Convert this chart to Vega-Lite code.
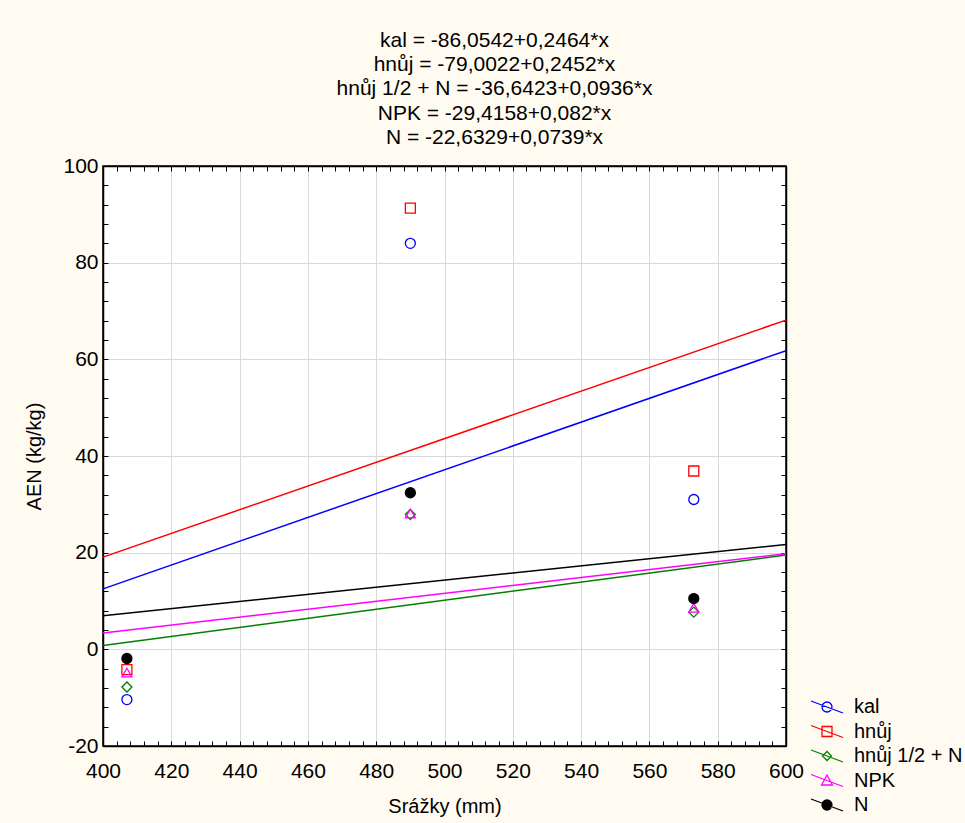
{
  "$schema": "https://vega.github.io/schema/vega-lite/v6.json",
  "autosize": {"type": "none"},
  "width": 683,
  "height": 580,
  "padding": {"left": 103, "top": 166, "right": 179, "bottom": 77},
  "background": "#fffbf0",
  "config": {
    "font": "Liberation Sans",
    "view": {"fill": "white", "stroke": "black", "strokeWidth": 1.5}
  },
  "title": {
    "text": ["kal = -86,0542+0,2464*x", "hnůj = -79,0022+0,2452*x", "hnůj 1/2 + N = -36,6423+0,0936*x", "NPK = -29,4158+0,082*x", "N = -22,6329+0,0739*x"],
    "fontSize": 21,
    "fontWeight": "normal",
    "color": "black",
    "lineHeight": 24.3,
    "anchor": "middle",
    "dx": 50,
    "offset": 7
  },
  "datasets": {
    "lines": [
      {"series": "kal", "x": 400, "y": 12.51}, {"series": "kal", "x": 600, "y": 61.79},
      {"series": "hnůj", "x": 400, "y": 19.08}, {"series": "hnůj", "x": 600, "y": 68.12},
      {"series": "hnůj 1/2 + N", "x": 400, "y": 0.80}, {"series": "hnůj 1/2 + N", "x": 600, "y": 19.52},
      {"series": "NPK", "x": 400, "y": 3.38}, {"series": "NPK", "x": 600, "y": 19.78},
      {"series": "N", "x": 400, "y": 6.93}, {"series": "N", "x": 600, "y": 21.71}
    ],
    "points": [
      {"group": "kal", "x": 407, "y": -10.4}, {"group": "kal", "x": 490, "y": 84.0}, {"group": "kal", "x": 573, "y": 31.0},
      {"group": "hnůj", "x": 407, "y": -4.2}, {"group": "hnůj", "x": 490, "y": 91.3}, {"group": "hnůj", "x": 573, "y": 36.9},
      {"group": "hnůj 1/2 + N", "x": 407, "y": -7.8}, {"group": "hnůj 1/2 + N", "x": 490, "y": 27.9}, {"group": "hnůj 1/2 + N", "x": 573, "y": 7.7},
      {"group": "NPK", "x": 407, "y": -4.8}, {"group": "NPK", "x": 490, "y": 28.1}, {"group": "NPK", "x": 573, "y": 8.6},
      {"group": "N", "x": 407, "y": -1.9}, {"group": "N", "x": 490, "y": 32.4}, {"group": "N", "x": 573, "y": 10.5}
    ]
  },
  "resolve": {"axis": {"x": "independent", "y": "independent"}},
  "layer": [
    {
      "data": {"name": "lines"},
      "mark": {"type": "line", "strokeWidth": 1.5},
      "encoding": {
        "x": {
          "field": "x", "type": "quantitative",
          "scale": {"domain": [400, 600], "nice": false, "zero": false},
          "axis": {
            "orient": "bottom",
            "title": "Srážky (mm)",
            "values": [400,404,408,412,416,420,424,428,432,436,440,444,448,452,456,460,464,468,472,476,480,484,488,492,496,500,504,508,512,516,520,524,528,532,536,540,544,548,552,556,560,564,568,572,576,580,584,588,592,596,600],
            "labelExpr": "datum.value % 20 === 0 ? '' + datum.value : ''",
            "labelOverlap": false,
            "labelFlush": false,
            "labelFontSize": 21,
            "labelColor": "black",
            "labelPadding": 19,
            "tickSize": -5,
            "tickColor": "black",
            "domainColor": "black",
            "domainWidth": 1.5,
            "grid": true,
            "gridColor": {"condition": {"test": "datum.value % 20 === 0", "value": "#d9d9d9"}, "value": "rgba(0,0,0,0)"},
            "titleFontSize": 20,
            "titleFontWeight": "normal",
            "titleColor": "black",
            "titlePadding": 15
          }
        },
        "y": {
          "field": "y", "type": "quantitative",
          "scale": {"domain": [-20, 100], "nice": false, "zero": false},
          "axis": {
            "orient": "left",
            "title": "AEN (kg/kg)",
            "values": [-20,-16,-12,-8,-4,0,4,8,12,16,20,24,28,32,36,40,44,48,52,56,60,64,68,72,76,80,84,88,92,96,100],
            "labelExpr": "datum.value % 20 === 0 ? '' + datum.value : ''",
            "labelOverlap": false,
            "labelFlush": false,
            "labelFontSize": 21,
            "labelColor": "black",
            "labelPadding": 10,
            "tickSize": -5,
            "tickColor": "black",
            "domainColor": "black",
            "domainWidth": 1.5,
            "grid": true,
            "gridColor": {"condition": {"test": "datum.value % 20 === 0", "value": "#d9d9d9"}, "value": "rgba(0,0,0,0)"},
            "titleFontSize": 20,
            "titleFontWeight": "normal",
            "titleColor": "black",
            "titlePadding": 18
          }
        },
        "color": {
          "field": "series", "type": "nominal",
          "scale": {"domain": ["kal", "hnůj", "hnůj 1/2 + N", "NPK", "N"], "range": ["#0000ff", "#ff0000", "#008000", "#ff00ff", "#000000"]},
          "legend": {
            "title": null,
            "orient": "none",
            "legendX": 713,
            "legendY": 530,
            "padding": 0,
            "labelFontSize": 20,
            "labelColor": "black",
            "labelOffset": 16,
            "rowPadding": 3.5,
            "symbolSize": 400,
            "symbolStrokeWidth": 1.3,
            "encode": {
              "symbols": {
                "update": {
                  "shape": {"signal": "datum.value === 'kal' ? 'M-1.6,-0.6L1.6,0.6M0.5,0A0.5,0.5 0 1,1 -0.5,0A0.5,0.5 0 1,1 0.5,0Z' : datum.value === 'hnůj' ? 'M-1.6,-0.6L1.6,0.6M-0.5,-0.5H0.5V0.5H-0.5Z' : datum.value === 'hnůj 1/2 + N' ? 'M-1.6,-0.6L1.6,0.6M0,-0.45L0.45,0L0,0.45L-0.45,0Z' : datum.value === 'NPK' ? 'M-1.6,-0.6L1.6,0.6M0,-0.55L0.55,0.45L-0.55,0.45Z' : 'M-1.6,-0.6L1.6,0.6M0.5,0A0.5,0.5 0 1,1 -0.5,0A0.5,0.5 0 1,1 0.5,0Z'"},
                  "fill": {"signal": "datum.value === 'N' ? 'black' : 'transparent'"},
                  "strokeWidth": {"value": 1.3},
                  "opacity": {"value": 1}
                }
              }
            }
          }
        },
        "detail": {"field": "series"}
      }
    },
    {
      "data": {"name": "points"},
      "mark": {"type": "point", "size": 100, "strokeWidth": 1.3, "opacity": 1},
      "encoding": {
        "x": {"field": "x", "type": "quantitative", "axis": null},
        "y": {"field": "y", "type": "quantitative", "axis": null},
        "stroke": {
          "field": "group", "type": "nominal",
          "scale": {"domain": ["N", "NPK", "hnůj", "hnůj 1/2 + N", "kal"], "range": ["#000000", "#ff00ff", "#ff0000", "#008000", "#0000ff"]},
          "legend": null
        },
        "shape": {
          "field": "group", "type": "nominal",
          "scale": {"domain": ["N", "NPK", "hnůj", "hnůj 1/2 + N", "kal"], "range": ["circle", "triangle-up", "square", "diamond", "circle"]},
          "legend": null
        },
        "fill": {
          "condition": {"test": "datum.group === 'N'", "value": "#000000"},
          "value": "transparent"
        }
      }
    },
    {
      "data": {"name": "points"},
      "mark": {"type": "point", "opacity": 0},
      "encoding": {
        "x": {
          "field": "x", "type": "quantitative",
          "axis": {
            "orient": "top", "title": null, "labels": false, "grid": false,
            "values": [400,404,408,412,416,420,424,428,432,436,440,444,448,452,456,460,464,468,472,476,480,484,488,492,496,500,504,508,512,516,520,524,528,532,536,540,544,548,552,556,560,564,568,572,576,580,584,588,592,596,600],
            "tickSize": -5, "tickColor": "black", "domainColor": "black", "domainWidth": 1.5
          }
        },
        "y": {
          "field": "y", "type": "quantitative",
          "axis": {
            "orient": "right", "title": null, "labels": false, "grid": false,
            "values": [-20,-16,-12,-8,-4,0,4,8,12,16,20,24,28,32,36,40,44,48,52,56,60,64,68,72,76,80,84,88,92,96,100],
            "tickSize": -5, "tickColor": "black", "domainColor": "black", "domainWidth": 1.5
          }
        }
      }
    }
  ]
}
